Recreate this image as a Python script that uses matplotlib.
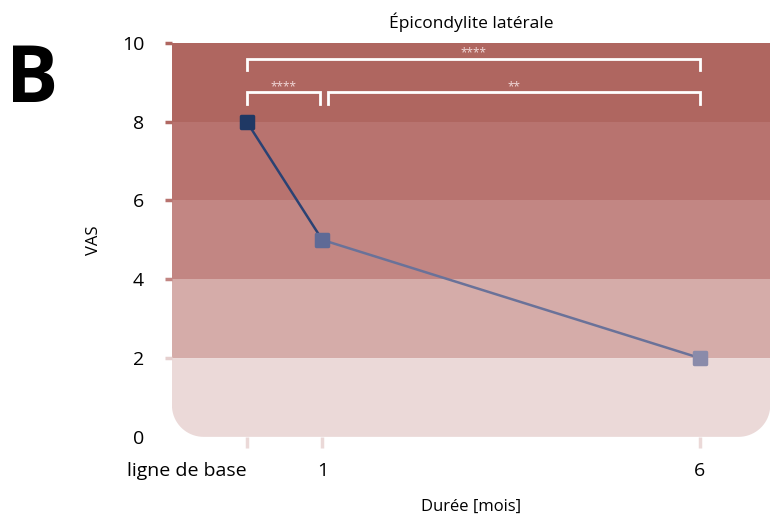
import numpy as np
import matplotlib.pyplot as plt
from matplotlib.path import Path
from matplotlib.patches import PathPatch
from matplotlib.markers import MarkerStyle

plt.rcParams['font.family'] = ['Open Sans', 'DejaVu Sans']

# Data
months = [0, 1, 6]
tick_labels = ['ligne de base', '1', '6']
vas = [8, 5, 2]
point_colors = ['#1F3864', '#5F6A96', '#8A8BAA']
line_colors = ['#2B4273', '#6A7299']

band_edges = [0, 2, 4, 6, 8, 10]
band_colors = ['#EBD9D8', '#D5ACA9', '#C28683', '#B8736F', '#AF6660']

# significance brackets: (x start, x end, y level, label)
brackets = [(0, 6, 9.6, '****'), (0, 0.97, 8.75, '****'), (1.07, 6, 8.75, '**')]

fig = plt.figure(figsize=(7.71, 5.17), dpi=100)
ax = fig.add_axes([0.223, 0.155, 0.776, 0.762])

x0, x1 = -0.99, 6.93
ax.set_xlim(x0, x1)
ax.set_ylim(0, 10)

# background bands
for i in range(1, len(band_colors)):
    ax.fill_between([x0, x1], band_edges[i], band_edges[i + 1],
                    color=band_colors[i], linewidth=0, zorder=0)

# bottom band with rounded lower corners
rx, ry = 0.42, 0.8
t = np.linspace(0, np.pi / 2, 20)
left_arc = np.column_stack([x0 + rx - rx * np.cos(t), ry - ry * np.sin(t)])
right_arc = np.column_stack([x1 - rx + rx * np.sin(t), ry - ry * np.cos(t)])
verts = np.vstack([[[x0, band_edges[1]]], left_arc, right_arc,
                   [[x1, band_edges[1]]], [[x0, band_edges[1]]]])
ax.add_patch(PathPatch(Path(verts), facecolor=band_colors[0], edgecolor='none', zorder=0))

# line segments and points
for i in range(len(months) - 1):
    ax.plot(months[i:i + 2], vas[i:i + 2], color=line_colors[i], linewidth=1.8, zorder=2)
sq = MarkerStyle('s', joinstyle='round')
for m, v, c in zip(months, vas, point_colors):
    ax.plot(m, v, marker=sq, markersize=9, color=c, markeredgecolor=c,
            markeredgewidth=2.5, zorder=3)

# brackets
for xa, xb, yl, lab in brackets:
    ax.plot([xa, xa, xb, xb], [yl - 0.3, yl, yl, yl - 0.3], color='white',
            linewidth=2, solid_joinstyle='miter', zorder=2)
    ax.text((xa + xb) / 2, yl - 0.02, lab, color='#F2DADA', fontsize=8.5,
            ha='center', va='bottom', zorder=2)

for s in ax.spines.values():
    s.set_visible(False)

ax.set_yticks([0, 2, 4, 6, 8, 10])
ax.set_yticklabels(['0', '2', '4', '6', '8', '10'], fontsize=14)
ax.tick_params(axis='y', length=5, width=2.5, pad=15)
tick_cols = ['none', '#E5CFCE', '#C28683', '#B8736F', '#B06862', '#AF6660']
for tk, c in zip(ax.yaxis.get_major_ticks(), tick_cols):
    tk.tick1line.set_markeredgecolor(c)

ax.set_xticks(months)
ax.set_xticklabels(tick_labels, fontsize=14)
ax.get_xticklabels()[0].set_ha('right')
ax.tick_params(axis='x', length=8, width=2.5, color='#EBD9D8', pad=10)

ax.set_title('Épicondylite latérale', fontsize=12.5, pad=11)
ax.set_xlabel('Durée [mois]', fontsize=12, labelpad=14)
ax.set_ylabel('VAS', fontsize=12, labelpad=14)

fig.text(0.008, 0.803, 'B', fontsize=56, fontweight='bold', ha='left', va='baseline')

fig.savefig('out.png', dpi=100)
